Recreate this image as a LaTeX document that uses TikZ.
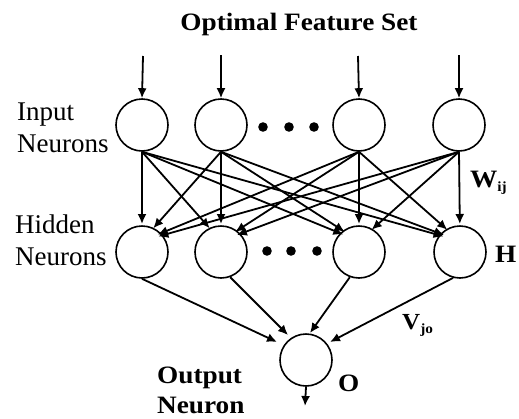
\documentclass[tikz,border=0pt]{standalone}
\usepackage{fontspec}
\setmainfont{Liberation Serif}
\newfontfamily\txtfont{Liberation Serif}
\newfontfamily\lblfont{Liberation Serif}[FakeStretch=1.09]
\usetikzlibrary{arrows.meta,calc}
\begin{document}
\begin{tikzpicture}[x=1pt,y=-1pt,
  neuron/.style={circle,draw,line width=1.6pt,minimum size=52pt,inner sep=0pt},
  link/.style={line width=1.8pt,-{Latex[length=10pt,width=9pt]}},
  plain/.style={anchor=base west,inner sep=0pt,font=\txtfont\fontsize{27}{30}\selectfont},
  bold/.style={anchor=base west,inner sep=0pt,font=\lblfont\bfseries\fontsize{25}{28}\selectfont}]
\useasboundingbox (0,0) rectangle (519,418);

% input layer
\node[neuron] (i1) at (142,125) {};
\node[neuron] (i2) at (221,125) {};
\node[neuron] (i3) at (359,125) {};
\node[neuron] (i4) at (459,125) {};
% hidden layer
\node[neuron] (h1) at (142,252) {};
\node[neuron] (h2) at (221,252) {};
\node[neuron] (h3) at (359,252) {};
\node[neuron] (h4) at (460,252) {};
% output neuron
\node[neuron] (o) at (306,360) {};

% ellipsis dots between the second and third neurons
\foreach \x in {263,289,314} \fill (\x,127) circle (4.8);
\foreach \x in {267,291,317} \fill (\x,251) circle (4.8);

% feature inputs
\coordinate (t1) at (143,56);
\coordinate (t2) at (221,55);
\coordinate (t3) at (358,56);
\coordinate (t4) at (459,55);
\foreach \k in {1,...,4} \draw[link] (t\k) -- (i\k.north);

% fully connected input -> hidden weights
\foreach \a in {1,...,4}
  \foreach \b in {1,...,4}
    \draw[link,shorten >=17pt] (i\a.south) -- ($(h\b.center)+(0,-11)$);

% hidden -> output
\draw[link] (h1.south) -- ($(o.center)+(-29,-18)$);
\draw[link] (h2.-70)   -- ($(o.center)+(-18,-25)$);
\draw[link] (h3.-110)  -- ($(o.center)+(4,-27)$);
\draw[link] (h4.-105)  -- ($(o.center)+(24,-18)$);

% network output
\coordinate (out) at (305,406);
\draw[link] (o.south) -- (out);

% labels
\node[bold,anchor=base] (title) at (299,30) {Optimal Feature Set};
\node[plain] (lin1) at (17,120) {Input};
\node[plain] (lin2) at (17,152) {Neurons};
\node[plain] (lhid1) at (15,233) {Hidden};
\node[plain] (lhid2) at (15,265) {Neurons};
\node[bold] (lw) at (470,187) {W\raisebox{-4pt}{\lblfont\bfseries\fontsize{14}{14}\selectfont ij}};
\node[bold] (lh) at (495,262) {H};
\node[bold,font=\lblfont\bfseries\fontsize{23}{25}\selectfont] (lv) at (402,329) {V\raisebox{-4pt}{\lblfont\bfseries\fontsize{14}{14}\selectfont jo}};
\node[bold] (lo) at (338,391) {O};
\node[bold] (lout1) at (157,383) {Output};
\node[bold] (lout2) at (157,413) {Neuron};
\end{tikzpicture}
\end{document}
